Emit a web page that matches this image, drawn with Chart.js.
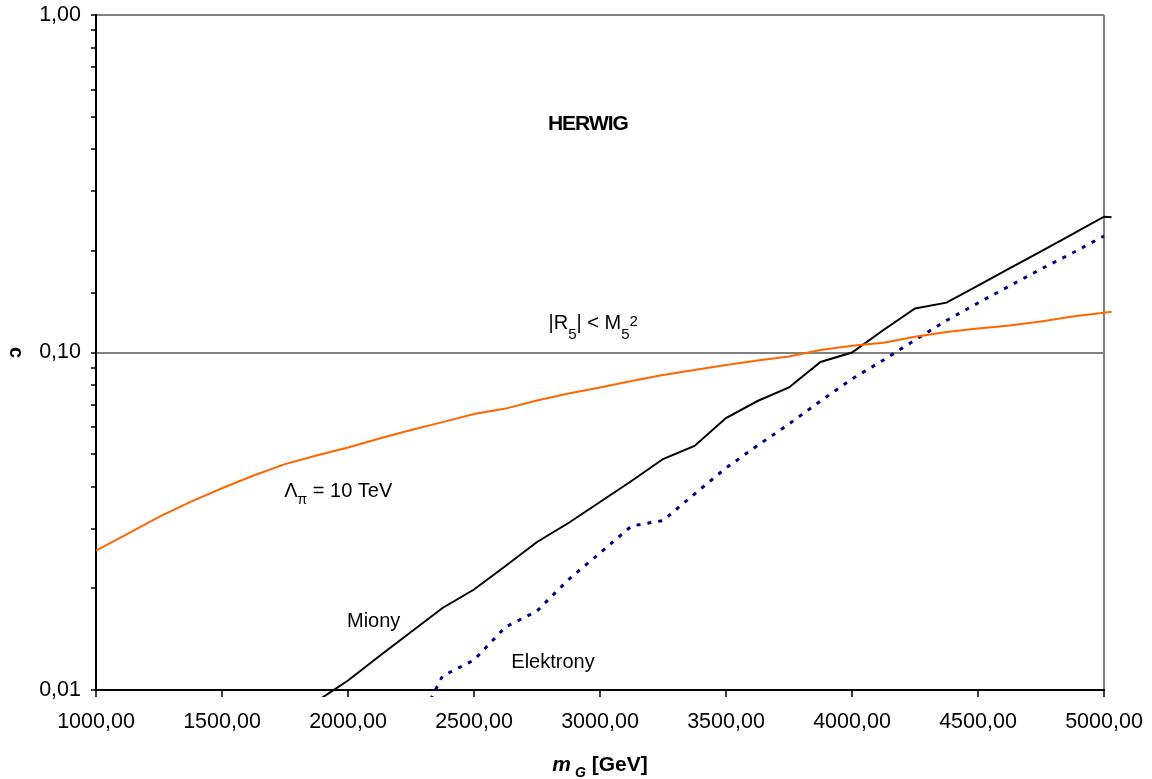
<!DOCTYPE html>
<html>
<head>
<meta charset="utf-8">
<script src="https://cdn.jsdelivr.net/npm/chart.js@4.4.1/dist/chart.umd.min.js"></script>
<style>
  html, body { margin: 0; padding: 0; background: #fff; }
  #wrap { width: 1152px; height: 779px; }
</style>
</head>
<body>
<div id="wrap"><canvas id="herwigChart"></canvas></div>
<script>
// graviton mass m_G [GeV] (last point is the little overhang past 5000)
const MASS_GEV = [1000, 1125, 1250, 1375, 1500, 1625, 1750, 1875, 2000, 2125, 2250, 2375, 2500, 2625, 2750, 2875,
  3000, 3125, 3250, 3375, 3500, 3625, 3750, 3875, 4000, 4125, 4250, 4375, 4500, 4625, 4750, 4875, 5000, 5030];

// Lambda_pi = 10 TeV (orange)
const LAMBDA_10TEV = [0.0259, 0.0290, 0.0326, 0.0361, 0.0396, 0.0432, 0.0467, 0.0495, 0.0523, 0.0556, 0.0589,
  0.0622, 0.0657, 0.0682, 0.0721, 0.0756, 0.0788, 0.0823, 0.0858, 0.0887, 0.0918, 0.0947, 0.0973, 0.1017,
  0.1047, 0.1069, 0.1114, 0.1150, 0.1178, 0.1202, 0.1236, 0.1279, 0.1312, 0.1321];

// Miony (black)
const MIONY = [null, null, null, null, null, null, null, 0.00925, 0.01067, 0.01261, 0.01486, 0.0175, 0.01985,
  0.0233, 0.02745, 0.03125, 0.03606, 0.04162, 0.04835, 0.05285, 0.06396, 0.07183, 0.07876, 0.09374, 0.1000,
  0.1166, 0.1350, 0.1405, 0.1578, 0.1774, 0.1994, 0.2244, 0.2526, 0.2515];

// Elektrony (navy dotted)
const ELEKTRONY = [null, null, null, null, null, null, null, null, null, null, 0.00716, 0.0110, 0.01227, 0.01537,
  0.01714, 0.02125, 0.02546, 0.03061, 0.03178, 0.03808, 0.04548, 0.05302, 0.06139, 0.07183, 0.08346, 0.09502,
  0.1089, 0.1244, 0.1402, 0.1574, 0.1768, 0.1972, 0.2214, null];

const X_MIN = 1000;
const X_MAX = 5000;
const X_STEP = 500;
const Y_MIN = 0.01;
const Y_MAX = 1;
const Y_GRID_VALUES = [0.1, 1];

const COLORS = {
  orange: "#ff6600",
  black: "#000000",
  navy: "#000080",
  frame: "#808080",
};

const FONT = "'Liberation Sans', Arial, sans-serif";

function toPoints(values) {
  return MASS_GEV.map((m, i) => ({ x: m, y: values[i] })).filter((p) => p.y != null);
}

function commaLabel(v) {
  return Number(v).toFixed(2).replace(".", ",");
}

function isDecade(v) {
  const l = Math.log10(v);
  return Math.abs(l - Math.round(l)) < 1e-6;
}

// text pieces: {text, font, dy}
function drawRich(ctx, x, y, parts, align) {
  let total = 0;
  for (const p of parts) {
    ctx.font = p.font;
    total += ctx.measureText(p.text).width;
  }
  let cx = align === "center" ? x - total / 2 : x;
  ctx.textAlign = "left";
  ctx.textBaseline = "alphabetic";
  for (const p of parts) {
    ctx.font = p.font;
    ctx.fillText(p.text, cx, y + (p.dy || 0));
    cx += ctx.measureText(p.text).width;
  }
}

const annotationsPlugin = {
  id: "herwigText",
  afterDraw(chart) {
    const { ctx, chartArea } = chart;
    const xs = chart.scales.x;
    const ys = chart.scales.y;
    const big = `20px ${FONT}`;
    const small = `14px ${FONT}`;
    ctx.save();
    ctx.fillStyle = "#000";

    // HERWIG
    ctx.font = `bold 21px ${FONT}`;
    ctx.letterSpacing = "-1px";
    ctx.textAlign = "center";
    ctx.textBaseline = "middle";
    ctx.fillText("HERWIG", xs.getPixelForValue(2952), ys.getPixelForValue(0.475));
    ctx.letterSpacing = "0px";

    drawRich(ctx, xs.getPixelForValue(2796), ys.getPixelForValue(0.1172), [
      { text: "|R", font: big },
      { text: "5", font: `15px ${FONT}`, dy: 10 },
      { text: "| < M", font: big },
      { text: "5", font: `15px ${FONT}`, dy: 10 },
      { text: "2", font: `15px ${FONT}`, dy: -3 },
    ]);

    drawRich(ctx, xs.getPixelForValue(1747), ys.getPixelForValue(0.0373), [
      { text: "\u039B", font: big },
      { text: "\u03C0", font: small, dy: 7 },
      { text: " = 10 TeV", font: big },
    ]);

    drawRich(ctx, xs.getPixelForValue(1996), ys.getPixelForValue(0.01534), [{ text: "Miony", font: big }]);
    drawRich(ctx, xs.getPixelForValue(2648), ys.getPixelForValue(0.0116), [{ text: "Elektrony", font: big }]);

    // x axis title
    const midX = (chartArea.left + chartArea.right) / 2;
    drawRich(ctx, midX, chartArea.bottom + 81, [
      { text: "m", font: `italic bold 21px ${FONT}` },
      { text: " G", font: `italic bold 14px ${FONT}`, dy: 6 },
      { text: " [GeV]", font: `bold 21px ${FONT}` },
    ], "center");

    // y axis title
    ctx.translate(16, (chartArea.top + chartArea.bottom) / 2);
    ctx.rotate(Math.PI / 2);
    ctx.font = `bold 20px ${FONT}`;
    ctx.textAlign = "center";
    ctx.textBaseline = "middle";
    ctx.fillText("c", 0, 0);
    ctx.restore();
  },
};

const lineClip = { left: 0, top: 0, right: 10, bottom: 7 };

new Chart(document.getElementById("herwigChart"), {
  type: "scatter",
  data: {
    datasets: [
      {
        label: "\u039B\u03C0 = 10 TeV",
        data: toPoints(LAMBDA_10TEV),
        showLine: true,
        borderColor: COLORS.orange,
        borderWidth: 2,
        pointRadius: 0,
        clip: lineClip,
      },
      {
        label: "Miony",
        data: toPoints(MIONY),
        showLine: true,
        borderColor: COLORS.black,
        borderWidth: 2,
        pointRadius: 0,
        clip: lineClip,
      },
      {
        label: "Elektrony",
        data: toPoints(ELEKTRONY),
        showLine: true,
        borderColor: COLORS.navy,
        borderWidth: 3,
        borderDash: [4, 7],
        pointRadius: 0,
        clip: lineClip,
      },
    ],
  },
  options: {
    responsive: true,
    maintainAspectRatio: false,
    animation: false,
    events: [],
    layout: { padding: { top: 15, right: 48, bottom: 0, left: 0 } },
    plugins: {
      legend: { display: false },
      tooltip: { enabled: false },
    },
    scales: {
      x: {
        type: "linear",
        // range set here (not min/max) so the line point just past 5000 still gets drawn
        afterDataLimits(scale) {
          scale.min = X_MIN;
          scale.max = X_MAX;
        },
        afterFit(scale) {
          scale.height = 89;
          scale.paddingLeft = 0;
          scale.paddingRight = 0;
        },
        ticks: {
          stepSize: X_STEP,
          maxRotation: 0,
          padding: 12,
          color: "#000",
          font: { family: FONT, size: 21.5 },
          callback: (v) => commaLabel(v),
        },
        grid: {
          lineWidth: 2,
          color: (c) => (c.tick && c.tick.value === X_MAX ? COLORS.frame : "rgba(0,0,0,0)"),
          tickColor: "#000",
          tickLength: 7,
          tickWidth: 1.5,
        },
        border: { display: true, color: "#000", width: 2 },
      },
      y: {
        type: "logarithmic",
        min: Y_MIN,
        max: Y_MAX,
        afterFit(scale) {
          scale.width = 96;
          scale.paddingTop = 0;
          scale.paddingBottom = 0;
        },
        ticks: {
          padding: 10,
          color: "#000",
          autoSkip: false,
          font: { family: FONT, size: 21.5 },
          callback: (v) => (isDecade(v) ? commaLabel(v) : ""),
        },
        grid: {
          lineWidth: 2,
          color: (c) => {
            const v = c.tick && c.tick.value;
            return Y_GRID_VALUES.some((g) => v != null && Math.abs(v - g) < 1e-9) ? COLORS.frame : "rgba(0,0,0,0)";
          },
          tickColor: "#000",
          tickLength: 5,
          tickWidth: 1.5,
        },
        border: { display: true, color: "#000", width: 2 },
      },
    },
  },
  plugins: [annotationsPlugin],
});
</script>
</body>
</html>
